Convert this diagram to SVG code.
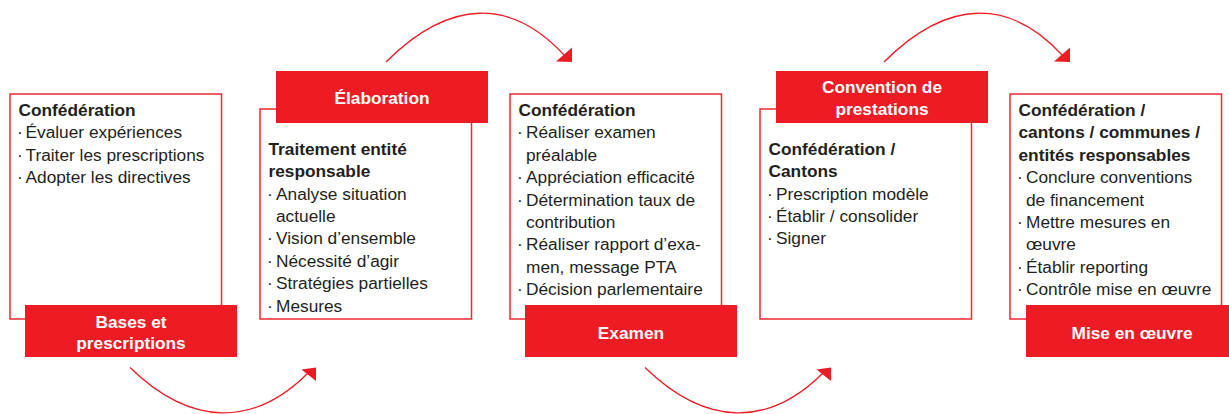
<svg xmlns="http://www.w3.org/2000/svg" width="1229" height="414" viewBox="0 0 1229 414">
<style>
.box{fill:#fff;stroke:#EE2A30;stroke-width:1.5}
.lab{fill:#ED1C24}
.t{font-family:"Liberation Sans",Arial,sans-serif;font-size:17.3px;fill:#231F20}
.b{font-weight:bold}
.w{font-family:"Liberation Sans",Arial,sans-serif;font-size:17.3px;font-weight:bold;fill:#fff;text-anchor:middle}
.arc{fill:none;stroke:#ED1C24;stroke-width:1.3}
.head{fill:#ED1C24}
</style>
<rect width="1229" height="414" fill="#fff"/>
<g id="connectors">
<path class="arc" d="M386,62 C450,-2 512,-2 565,56"/>
<polygon class="head" points="556,61.5 572,47.5 572,62"/>
<path class="arc" d="M884,62 C948,-2 1010,-2 1063,56"/>
<polygon class="head" points="1054,61.5 1070,47.5 1070,62"/>
<path class="arc" d="M130,367.5 C191,427 254,427 308,373"/>
<polygon class="head" points="301.5,369.5 316,367.5 316,381"/>
<path class="arc" d="M645,367.5 C706,427 769,427 823,373"/>
<polygon class="head" points="816.5,369.5 831,367.5 831,381"/>
</g>
<g id="node1">
<rect class="box" x="10" y="94" width="211.5" height="225"/>
<text class="t b" x="18.5" y="116">Confédération</text>
<text class="t" x="17" y="138.4">·</text><text class="t" x="25.5" y="138.4">Évaluer expériences</text>
<text class="t" x="17" y="160.8">·</text><text class="t" x="25.5" y="160.8">Traiter les prescriptions</text>
<text class="t" x="17" y="183.2">·</text><text class="t" x="25.5" y="183.2">Adopter les directives</text>
<rect class="lab" x="25" y="305" width="212" height="52"/>
<text class="w" x="131" y="328">Bases et</text>
<text class="w" x="131" y="348.5">prescriptions</text>
</g>
<g id="node2">
<rect class="box" x="260" y="109" width="211.5" height="210"/>
<rect class="lab" x="276" y="71" width="212" height="52"/>
<text class="w" x="382" y="104">Élaboration</text>
<text class="t b" x="268.5" y="154.7">Traitement entité</text>
<text class="t b" x="268.5" y="177.1">responsable</text>
<text class="t" x="267" y="199.5">·</text><text class="t" x="276" y="199.5">Analyse situation</text>
<text class="t" x="276" y="221.9">actuelle</text>
<text class="t" x="267" y="244.3">·</text><text class="t" x="276" y="244.3">Vision d’ensemble</text>
<text class="t" x="267" y="266.7">·</text><text class="t" x="276" y="266.7">Nécessité d’agir</text>
<text class="t" x="267" y="289.1">·</text><text class="t" x="276" y="289.1">Stratégies partielles</text>
<text class="t" x="267" y="311.5">·</text><text class="t" x="276" y="311.5">Mesures</text>
</g>
<g id="node3">
<rect class="box" x="510" y="94" width="211.5" height="225"/>
<text class="t b" x="518.5" y="116">Confédération</text>
<text class="t" x="517" y="138.4">·</text><text class="t" x="526" y="138.4">Réaliser examen</text>
<text class="t" x="526" y="160.8">préalable</text>
<text class="t" x="517" y="183.2">·</text><text class="t" x="526" y="183.2">Appréciation efficacité</text>
<text class="t" x="517" y="205.6">·</text><text class="t" x="526" y="205.6">Détermination taux de</text>
<text class="t" x="526" y="228">contribution</text>
<text class="t" x="517" y="250.4">·</text><text class="t" x="526" y="250.4">Réaliser rapport d’exa-</text>
<text class="t" x="526" y="272.8">men, message PTA</text>
<text class="t" x="517" y="295.2">·</text><text class="t" x="526" y="295.2">Décision parlementaire</text>
<rect class="lab" x="525" y="305" width="212" height="52"/>
<text class="w" x="631" y="338.5">Examen</text>
</g>
<g id="node4">
<rect class="box" x="760" y="109" width="211.5" height="210"/>
<rect class="lab" x="776" y="71" width="212" height="52"/>
<text class="w" x="882" y="93">Convention de</text>
<text class="w" x="882" y="115">prestations</text>
<text class="t b" x="768.5" y="154.7">Confédération /</text>
<text class="t b" x="768.5" y="177.1">Cantons</text>
<text class="t" x="767" y="199.5">·</text><text class="t" x="776" y="199.5">Prescription modèle</text>
<text class="t" x="767" y="221.9">·</text><text class="t" x="776" y="221.9">Établir / consolider</text>
<text class="t" x="767" y="244.3">·</text><text class="t" x="776" y="244.3">Signer</text>
</g>
<g id="node5">
<rect class="box" x="1010" y="94" width="211.5" height="225"/>
<text class="t b" x="1018.5" y="116">Confédération /</text>
<text class="t b" x="1018.5" y="138.4">cantons / communes /</text>
<text class="t b" x="1018.5" y="160.8">entités responsables</text>
<text class="t" x="1017" y="183.2">·</text><text class="t" x="1026" y="183.2">Conclure conventions</text>
<text class="t" x="1026" y="205.6">de financement</text>
<text class="t" x="1017" y="228">·</text><text class="t" x="1026" y="228">Mettre mesures en</text>
<text class="t" x="1026" y="250.4">œuvre</text>
<text class="t" x="1017" y="272.8">·</text><text class="t" x="1026" y="272.8">Établir reporting</text>
<text class="t" x="1017" y="295.2">·</text><text class="t" x="1026" y="295.2">Contrôle mise en œuvre</text>
<rect class="lab" x="1026" y="305" width="212" height="52"/>
<text class="w" x="1132" y="338.5">Mise en œuvre</text>
</g>
</svg>
